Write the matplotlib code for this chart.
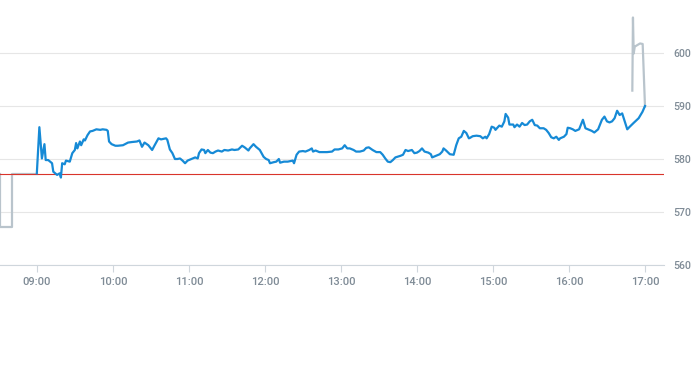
import matplotlib.pyplot as plt

# Séance régulière (bleu)
blue_times = [
    "09:00", "09:02", "09:04", "09:06", "09:07", "09:09", "09:12", "09:13", "09:16", "09:18",
    "09:19", "09:20", "09:22", "09:23", "09:26", "09:28", "09:30", "09:31", "09:32", "09:34",
    "09:35", "09:37", "09:38", "09:40", "09:42", "09:44", "09:47", "09:50", "09:52", "09:55",
    "09:56", "09:57", "09:59", "10:02", "10:04", "10:08", "10:12", "10:15", "10:19", "10:21",
    "10:23", "10:25", "10:28", "10:30", "10:31", "10:33", "10:36", "10:38", "10:40", "10:42",
    "10:43", "10:45", "10:47", "10:49", "10:51", "10:53", "10:55", "10:57", "10:59", "11:02",
    "11:05", "11:07", "11:08", "11:10", "11:12", "11:13", "11:15", "11:17", "11:19", "11:21",
    "11:23", "11:26", "11:28", "11:31", "11:34", "11:36", "11:39", "11:42", "11:44", "11:47",
    "11:48", "11:51", "11:53", "11:56", "11:59", "12:01", "12:03", "12:04", "12:07", "12:09",
    "12:11", "12:12", "12:15", "12:18", "12:20", "12:22", "12:23", "12:25", "12:27", "12:30",
    "12:32", "12:35", "12:37", "12:38", "12:40", "12:43", "12:46", "12:49", "12:53", "12:55",
    "12:58", "13:01", "13:03", "13:05", "13:07", "13:10", "13:12", "13:15", "13:18", "13:20",
    "13:22", "13:25", "13:28", "13:31", "13:33", "13:35", "13:37", "13:39", "13:41", "13:43",
    "13:47", "13:49", "13:51", "13:53", "13:56", "13:58", "14:00", "14:02", "14:04", "14:06",
    "14:09", "14:11", "14:12", "14:15", "14:18", "14:20", "14:21", "14:23", "14:26", "14:29",
    "14:31", "14:33", "14:35", "14:37", "14:39", "14:41", "14:42", "14:44", "14:47", "14:50",
    "14:52", "14:54", "14:55", "14:57", "14:59", "15:01", "15:02", "15:05", "15:07", "15:09",
    "15:10", "15:12", "15:13", "15:16", "15:17", "15:19", "15:21", "15:23", "15:25", "15:27",
    "15:29", "15:31", "15:33", "15:35", "15:37", "15:40", "15:42", "15:44", "15:46", "15:48",
    "15:50", "15:52", "15:53", "15:56", "15:58", "15:59", "16:01", "16:03", "16:05", "16:08",
    "16:11", "16:13", "16:15", "16:18", "16:20", "16:23", "16:26", "16:28", "16:30", "16:32",
    "16:34", "16:36", "16:38", "16:40", "16:42", "16:44", "16:46", "16:48", "16:51", "16:55",
    "16:58", "17:00",
]
blue_prices = [
    577.3, 586.0, 580.1, 582.8, 579.8, 579.8, 579.2, 577.6, 577.0, 577.3,
    576.5, 579.2, 579.0, 579.7, 579.5, 581.1, 581.7, 583.0, 582.0, 583.3,
    582.6, 583.7, 583.5, 584.5, 585.2, 585.3, 585.6, 585.5, 585.6, 585.5,
    585.3, 583.3, 582.8, 582.5, 582.5, 582.6, 583.1, 583.2, 583.3, 583.5,
    582.3, 583.1, 582.6, 582.0, 581.7, 582.6, 583.9, 583.7, 583.8, 583.9,
    583.6, 581.8, 581.1, 580.0, 580.0, 580.1, 579.7, 579.2, 579.7, 580.0,
    580.3, 580.1, 581.1, 581.8, 581.7, 581.1, 581.7, 581.2, 581.1, 581.4,
    581.6, 581.4, 581.7, 581.6, 581.8, 581.7, 581.8, 582.5, 582.2, 581.6,
    582.0, 582.8, 582.3, 581.7, 580.4, 580.0, 579.8, 579.2, 579.4, 579.5,
    580.0, 579.3, 579.5, 579.5, 579.6, 579.7, 579.2, 580.8, 581.4, 581.5,
    581.4, 581.7, 582.0, 581.4, 581.6, 581.3, 581.3, 581.3, 581.4, 581.8,
    581.8, 582.0, 582.6, 582.0, 582.0, 581.7, 581.4, 581.4, 581.6, 582.1,
    582.2, 581.7, 581.3, 581.3, 580.8, 580.1, 579.5, 579.4, 579.8, 580.3,
    580.6, 580.8, 581.7, 581.5, 581.7, 581.1, 581.2, 581.5, 582.0, 581.4,
    581.2, 580.9, 580.3, 580.6, 580.9, 581.4, 582.0, 581.6, 580.9, 580.8,
    582.6, 583.9, 584.2, 585.3, 584.9, 583.9, 584.0, 584.3, 584.4, 584.3,
    583.9, 584.2, 583.9, 584.7, 586.1, 585.9, 585.5, 586.3, 586.1, 587.1,
    588.5, 587.8, 586.5, 586.5, 586.0, 586.5, 586.1, 586.8, 586.4, 586.5,
    587.1, 587.4, 586.4, 586.3, 585.8, 585.8, 585.5, 584.9, 584.1, 583.9,
    584.2, 583.6, 583.9, 584.2, 584.7, 585.9, 585.8, 585.6, 585.3, 585.6,
    587.4, 585.8, 585.6, 585.3, 585.0, 585.6, 587.4, 588.0, 587.1, 586.9,
    587.1, 587.7, 589.1, 588.3, 588.6, 587.1, 585.6, 586.1, 586.8, 587.7,
    588.9, 590.0,
]

# Avant-séance et après-séance (gris)
pre_times = ["08:31:00", "08:31:00", "08:40:20", "08:40:20", "09:00:00"]
pre_prices = [577.2, 567.2, 567.2, 577.2, 577.2]
post_times = ["16:50:00", "16:50:30", "16:51:05", "16:51:55", "16:56:05", "16:58:10", "17:00:00"]
post_prices = [592.9, 606.7, 599.9, 601.2, 601.8, 601.7, 589.9]

ref_price = 577.2  # clôture précédente
y_ticks = [560, 570, 580, 590, 600]
x_hours = [9, 10, 11, 12, 13, 14, 15, 16, 17]


def to_hours(t):
    parts = [float(p) for p in t.split(":")]
    while len(parts) < 3:
        parts.append(0.0)
    return parts[0] + parts[1] / 60 + parts[2] / 3600


plt.rcParams['font.family'] = ['Roboto', 'DejaVu Sans']

fig = plt.figure(figsize=(6.93, 3.65), dpi=100)
ax = fig.add_axes([0, 0.274, 664 / 693, 0.726])

ax.plot([to_hours(t) for t in pre_times], pre_prices, color='#b9c4cc', lw=1.6, zorder=2)
ax.plot([to_hours(t) for t in post_times], post_prices, color='#b9c4cc', lw=1.6, zorder=2)
ax.plot([to_hours(t) for t in blue_times], blue_prices, color='#168ad6', lw=1.6, zorder=3)
ax.axhline(ref_price, color='#d9342b', lw=0.8, zorder=2.5)

ax.set_xlim(8.5155, 17.25)
ax.set_ylim(560, 610)

ax.set_yticks(y_ticks)
ax.yaxis.tick_right()
ax.grid(axis='y', color='#e6e6e6', lw=0.8)
ax.tick_params(axis='y', length=0, pad=6.5, labelsize=7.6, labelcolor='#7f8b96')

ax.set_xticks(x_hours)
ax.set_xticklabels([f"{h:02d}:00" for h in x_hours])
ax.tick_params(axis='x', length=5, width=0.8, color='#cfd6dc', pad=4,
               labelsize=8, labelcolor='#7f8b96')
for lab in ax.get_xticklabels() + ax.get_yticklabels():
    lab.set_fontweight('medium')

for side in ['top', 'left', 'right']:
    ax.spines[side].set_visible(False)
ax.spines['bottom'].set_color('#cfd6dc')
ax.spines['bottom'].set_linewidth(0.8)
ax.set_axisbelow(True)

fig.savefig('out.png', dpi=100)
